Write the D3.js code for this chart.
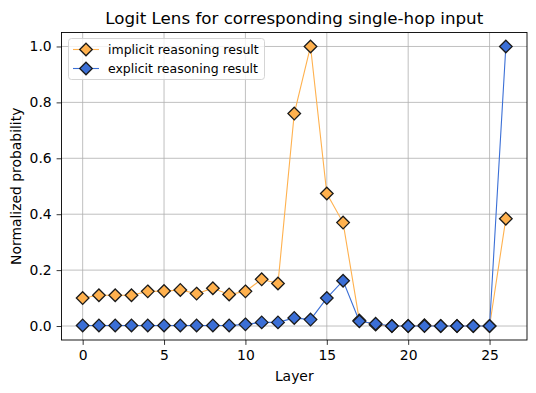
<!DOCTYPE html>
<html><head><meta charset="utf-8">
<script src="https://cdn.jsdelivr.net/npm/d3@7"></script>
<style>body{margin:0;background:#fff}svg{display:block;font-family:"DejaVu Sans",sans-serif}</style>
</head><body><svg id="c" width="536" height="393"></svg>
<script>
const layers = d3.range(0, 27);
const implicitVals = [0.100,0.110,0.110,0.110,0.124,0.125,0.129,0.116,0.135,0.113,0.124,0.167,0.152,0.760,1.000,0.474,0.370,0.020,0.005,0.000,0.000,0.003,0.000,0.000,0.000,0.000,0.384];
const explicitVals = [0.002,0.002,0.002,0.002,0.002,0.002,0.002,0.002,0.002,0.002,0.006,0.013,0.013,0.029,0.023,0.100,0.162,0.017,0.008,0.000,0.000,0.000,0.000,0.000,0.000,0.000,1.000];
const xTicks = [0,5,10,15,20,25];
const yTicks = [0,0.2,0.4,0.6,0.8,1.0];
const seriesNames = ["implicit reasoning result","explicit reasoning result"];
const seriesColors = ["#ffb14e","#3b6fd6"];

const svg = d3.select("#c");
const m = {l:61.5, r:9, t:32.5, b:53};
const W = 536, H = 393;
const x = d3.scaleLinear().domain([-1.3, 27.3]).range([m.l, W-m.r]);
const y = d3.scaleLinear().domain([-0.05, 1.05]).range([H-m.b, m.t]);

// grid
const g = svg.append("g");
g.selectAll("line.gx").data(xTicks).join("line").attr("x1",d=>x(d)).attr("x2",d=>x(d)).attr("y1",m.t).attr("y2",H-m.b).attr("stroke","#b0b0b0").attr("stroke-width",0.8);
g.selectAll("line.gy").data(yTicks).join("line").attr("y1",d=>y(d)).attr("y2",d=>y(d)).attr("x1",m.l).attr("x2",W-m.r).attr("stroke","#b0b0b0").attr("stroke-width",0.8);

// axes
const xa = svg.append("g").attr("transform",`translate(0,${H-m.b})`).call(d3.axisBottom(x).tickValues(xTicks).tickSize(4.9).tickPadding(4.9).tickFormat(d3.format("d")));
const ya = svg.append("g").attr("transform",`translate(${m.l},0)`).call(d3.axisLeft(y).tickValues(yTicks).tickSize(4.9).tickPadding(4.9).tickFormat(d3.format(".1f")));
[xa,ya].forEach(a=>{a.select(".domain").remove();a.selectAll("text").attr("font-size","13.9px").attr("fill","#000").attr("font-family","DejaVu Sans");a.selectAll("line").attr("stroke","#000").attr("stroke-width",0.8);});

const data = [implicitVals, explicitVals];
const line = d3.line().x((d,i)=>x(layers[i])).y(d=>y(d));
const diamond = (cx,cy,r)=>`M${cx},${cy-r}L${cx+r},${cy}L${cx},${cy+r}L${cx-r},${cy}Z`;
data.forEach((vals,k)=>{
  svg.append("path").attr("d",line(vals)).attr("fill","none").attr("stroke",seriesColors[k]).attr("stroke-width",1.1);
  svg.append("g").selectAll("path").data(vals).join("path")
    .attr("d",(d,i)=>diamond(x(layers[i]),y(d),6.3)).attr("fill",seriesColors[k]).attr("stroke","#1a1a1a").attr("stroke-width",1.3);
});

// frame
svg.append("rect").attr("x",m.l).attr("y",m.t).attr("width",W-m.r-m.l).attr("height",H-m.b-m.t).attr("fill","none").attr("stroke","#000").attr("stroke-width",0.9);

// legend
const lg = svg.append("g");
lg.append("rect").attr("x",68.5).attr("y",38.5).attr("width",196).attr("height",41).attr("rx",3).attr("fill","#fff").attr("fill-opacity",0.8).attr("stroke","#d0d0d0").attr("stroke-width",0.9);
seriesNames.forEach((n,k)=>{
  const yy = 49.5 + k*19;
  lg.append("line").attr("x1",73).attr("x2",99).attr("y1",yy).attr("y2",yy).attr("stroke",seriesColors[k]).attr("stroke-width",1.1);
  lg.append("path").attr("d",diamond(86,yy,6.3)).attr("fill",seriesColors[k]).attr("stroke","#1a1a1a").attr("stroke-width",1.3);
  lg.append("text").attr("x",108).attr("y",yy+4.3).attr("font-size","12.5px").attr("fill","#000").text(n);
});

// labels
svg.append("text").attr("x",(m.l+W-m.r)/2).attr("y",24).attr("text-anchor","middle").attr("font-size","16.7px").attr("fill","#000").text("Logit Lens for corresponding single-hop input");
svg.append("text").attr("x",(m.l+W-m.r)/2).attr("y",381).attr("text-anchor","middle").attr("font-size","13.9px").attr("fill","#000").text("Layer");
svg.append("text").attr("transform",`translate(21,${(m.t+H-m.b)/2}) rotate(-90)`).attr("text-anchor","middle").attr("font-size","13.9px").attr("fill","#000").text("Normalized probability");
</script></body></html>
